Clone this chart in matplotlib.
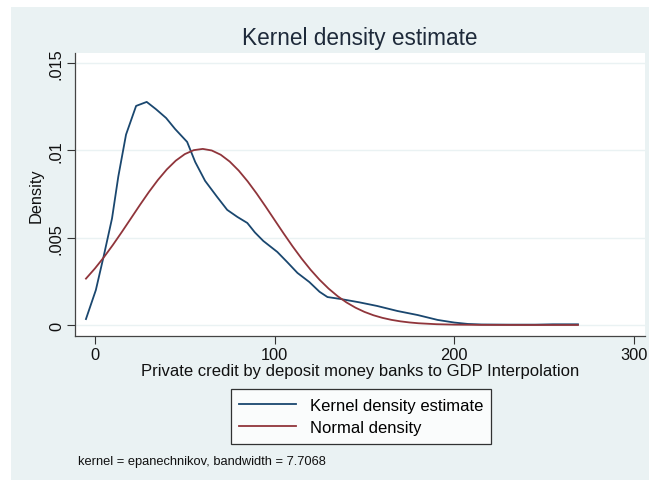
import matplotlib
matplotlib.use("Agg")
import matplotlib.pyplot as plt
from matplotlib.patches import Rectangle
from matplotlib.lines import Line2D

plt.rcParams["font.family"] = ["Liberation Sans", "DejaVu Sans"]

# kernel density estimate (epanechnikov, bw = 7.7068)
kde_x = [-5, 0.5, 5, 9.5, 13, 17.3, 22.9, 28.8, 34, 39.6, 44.6, 51.3, 55.8,
         61.3, 68, 73.6, 79.2, 84.8, 89, 93.7, 101.5, 107, 112.7, 119.3, 125,
         129.4, 136.6, 147, 157, 168.4, 179.6, 190.7, 200, 207.5, 215, 230,
         245, 255, 268.8]
kde_y = [0.00034, 0.0020, 0.0040, 0.0061, 0.0085, 0.0109, 0.01254, 0.01277,
         0.01235, 0.01185, 0.01122, 0.01048, 0.00933, 0.00825, 0.00733,
         0.00659, 0.00619, 0.00584, 0.0053, 0.00481, 0.00418, 0.0036, 0.00298,
         0.00246, 0.0019, 0.0016, 0.00149, 0.0013, 0.00109, 0.0008, 0.00057,
         0.00029, 0.00014, 0.00006, 0.00003, 0.00002, 0.00002, 0.00004,
         0.00004]

# normal density overlay
norm_x = [-5, 0, 5, 10, 15, 20, 25, 30, 35, 40, 45, 50, 55, 60, 65, 70, 75,
          80, 85, 90, 95, 100, 105, 110, 115, 120, 125, 130, 135, 140, 145,
          150, 155, 160, 165, 170, 175, 180, 190, 200, 215, 240, 268.8]
norm_y = [0.002654, 0.003237, 0.003883, 0.004586, 0.005331, 0.006098,
          0.006867, 0.007610, 0.008298, 0.008907, 0.009409, 0.009782,
          0.010009, 0.010080, 0.009990, 0.009745, 0.009355, 0.008839,
          0.008219, 0.007522, 0.006776, 0.006007, 0.005241, 0.004500,
          0.003802, 0.003162, 0.002589, 0.002086, 0.001654, 0.001290,
          0.000991, 0.000749, 0.000557, 0.000408, 0.000294, 0.000209,
          0.000146, 0.000100, 0.000045, 0.000020, 0.000005, 0.0, 0.0]

x_ticks = [0, 100, 200, 300]
y_ticks = [0, 0.005, 0.01, 0.015]
y_tick_labels = ["0", ".005", ".01", ".015"]

NAVY = "#1a476f"
MAROON = "#90353b"
REGION = "#eaf2f3"
INK = "#1e2a3a"

fig = plt.figure(figsize=(6.49, 4.81), dpi=100)
fig.patches.append(Rectangle((11 / 649, 0), 1, 1 - 8 / 481,
                             transform=fig.transFigure, facecolor=REGION,
                             edgecolor="none", zorder=-10))

ax = fig.add_axes([75 / 649, 1 - 337 / 481, 570 / 649, 283 / 481])
ax.set_facecolor("white")
ax.plot(kde_x, kde_y, color=NAVY, linewidth=1.3, zorder=3)
ax.plot(norm_x, norm_y, color=MAROON, linewidth=1.3, zorder=3)

ax.set_xlim(-11.1, 306.1)
ax.set_ylim(-0.00063, 0.01557)
ax.set_xticks(x_ticks)
ax.set_yticks(y_ticks)
ax.set_yticklabels(y_tick_labels, rotation=90, va="center")
ax.tick_params(axis="both", direction="out", length=6, width=0.8,
               color="#333333", labelsize=11.8, labelcolor="#111111", pad=2)
ax.grid(axis="y", color=REGION, linewidth=1.0, zorder=0)
for side in ("top", "right"):
    ax.spines[side].set_visible(False)
for side in ("left", "bottom"):
    ax.spines[side].set_color("#444444")
    ax.spines[side].set_linewidth(0.9)

ax.set_ylabel("Density", fontsize=11.8, color="#111111", labelpad=4)
ax.set_xlabel("Private credit by deposit money banks to GDP Interpolation",
              fontsize=12, color="#111111", labelpad=1)
fig.text(360 / 649, 1 - 38 / 481, "Kernel density estimate", ha="center",
         va="center", fontsize=16.3, color=INK)

handles = [Line2D([], [], color=NAVY, linewidth=1.3),
           Line2D([], [], color=MAROON, linewidth=1.3)]
leg = fig.legend(handles, ["Kernel density estimate", "Normal density"],
                 loc="center", bbox_to_anchor=(361 / 649, 1 - 417.5 / 481),
                 fontsize=12, frameon=True, fancybox=False,
                 handlelength=3.4, handletextpad=0.85, borderpad=0.5,
                 labelspacing=0.45, borderaxespad=0)
leg.get_frame().set_edgecolor("black")
leg.get_frame().set_linewidth(0.9)
leg.get_frame().set_facecolor("white")

fig.text(78 / 649, 1 - 462 / 481, "kernel = epanechnikov, bandwidth = 7.7068",
         ha="left", va="center", fontsize=9.3, color="#111111")

fig.savefig("out.png", dpi=100, facecolor="white")
